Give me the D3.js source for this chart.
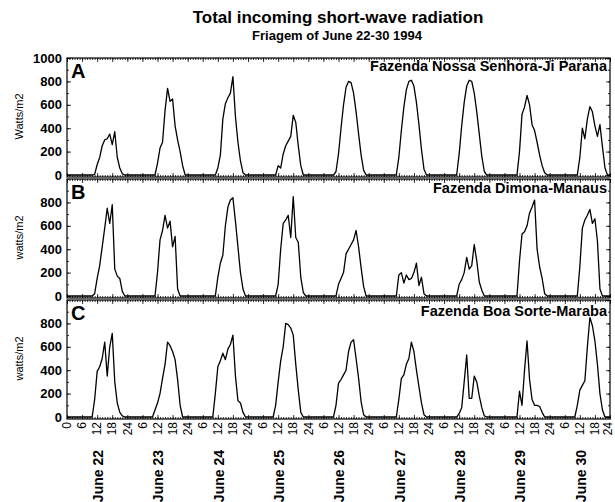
<!DOCTYPE html>
<html><head><meta charset="utf-8">
<script src="https://cdn.jsdelivr.net/npm/d3@7"></script>
<style>body{margin:0;background:#fff} text{font-family:"Liberation Sans",Arial,Helvetica,sans-serif}</style>
</head><body><svg id="c" width="615" height="502"></svg>
<script>
const title = "Total incoming short-wave radiation";
const subtitle = "Friagem of June 22-30 1994";
const days = ["June 22","June 23","June 24","June 25","June 26","June 27","June 28","June 29","June 30"];
const stations = ["Fazenda Nossa Senhora-Ji Parana","Fazenda Dimona-Manaus","Fazenda Boa Sorte-Maraba"];
const panelLetters = ["A","B","C"];
const yLabels = ["Watts/m2","watts/m2","watts/m2"];
const yTicksA = [0,200,400,600,800,1000];
const yTicksBC = [0,200,400,600,800];
const hourTicks = [0,6,12,18,24];

// hourly values (h0..h23) for each day, W/m2
const seriesA = [
 [0,0,0,0,0,0,0,0,0,0,0,5,90,150,250,300,310,350,260,370,150,60,10,0],
 [0,0,0,0,0,0,0,0,0,0,0,0,100,230,280,550,740,630,650,420,300,200,80,0],
 [0,0,0,0,0,0,0,0,0,0,0,0,60,170,480,610,660,700,840,500,280,120,20,0],
 [0,0,0,0,0,0,0,0,0,0,0,0,80,60,180,250,290,330,510,450,250,80,0,0],
 [0,0,0,0,0,0,0,0,0,0,0,30,180,400,600,750,800,790,700,540,350,170,40,0],
 [0,0,0,0,0,0,0,0,0,0,0,0,150,380,580,730,800,810,760,620,430,220,50,0],
 [0,0,0,0,0,0,0,0,0,0,0,0,180,420,620,760,810,800,700,540,350,160,30,0],
 [0,0,0,0,0,0,0,0,0,0,0,0,200,520,580,680,600,430,380,280,170,80,20,0],
 [0,0,0,0,0,0,0,0,0,0,0,0,150,400,310,480,585,540,420,330,430,240,60,0]
];
const seriesB = [
 [0,0,0,0,0,0,0,0,0,0,0,20,150,260,420,580,750,620,780,230,170,150,40,0],
 [0,0,0,0,0,0,0,0,0,0,0,0,200,480,560,690,580,640,420,510,60,0,0,0],
 [0,0,0,0,0,0,0,0,0,0,0,0,160,280,350,600,760,820,840,640,420,200,60,0],
 [0,0,0,0,0,0,0,0,0,0,0,0,100,400,620,650,690,500,850,500,460,160,30,0],
 [0,0,0,0,0,0,0,0,0,0,0,0,100,150,200,360,400,440,480,560,420,240,80,0],
 [0,0,0,0,0,0,0,0,0,0,0,0,180,200,110,180,140,150,200,280,90,160,20,0],
 [0,0,0,0,0,0,0,0,0,0,0,0,100,140,200,330,230,260,440,300,120,50,0,0],
 [0,0,0,0,0,0,0,0,0,0,0,0,300,530,550,600,710,760,820,400,250,150,20,0],
 [0,0,0,0,0,0,0,0,0,0,0,0,250,580,650,690,740,620,660,470,60,0,0,0]
];
const seriesC = [
 [0,0,0,0,0,0,0,0,0,0,0,150,390,430,500,640,350,600,715,300,120,40,10,0],
 [0,0,0,0,0,0,0,0,0,0,0,60,120,200,330,450,640,610,560,490,320,100,0,0],
 [0,0,0,0,0,0,0,0,0,0,0,200,430,480,545,490,580,620,700,350,140,120,40,0],
 [0,0,0,0,0,0,0,0,0,0,0,100,300,480,600,800,790,760,700,450,230,40,0,0],
 [0,0,0,0,0,0,0,0,0,0,0,100,290,320,360,400,560,640,660,500,330,130,20,0],
 [0,0,0,0,0,0,0,0,0,0,0,0,150,330,360,450,500,640,560,400,260,120,20,0],
 [0,0,0,0,0,0,0,0,0,0,0,0,30,80,300,530,160,160,350,300,180,80,10,0],
 [0,0,0,0,0,0,0,0,0,0,0,0,220,100,400,650,320,150,100,100,90,40,0,0],
 [0,0,0,0,0,0,0,0,0,0,0,100,230,270,310,600,850,780,650,450,200,60,0,0]
];

const svg = d3.select("#c");
const L = 67, R = 610;
const panels = [
  {top:58, bottom:177, data:seriesA, yt:yTicksA, nameY:13},
  {top:179, bottom:298, data:seriesB, yt:yTicksBC, nameY:14},
  {top:300, bottom:419, data:seriesC, yt:yTicksBC, nameY:16}
];
const nH = days.length*24;
const x = d3.scaleLinear().domain([0, nH]).range([L, R]);

svg.append("text").attr("x",338).attr("y",23).attr("text-anchor","middle")
  .attr("font-size",17).attr("font-weight","bold").text(title);
svg.append("text").attr("x",337).attr("y",40).attr("text-anchor","middle")
  .attr("font-size",13).attr("font-weight","bold").text(subtitle);

panels.forEach((p,i)=>{
  const y = d3.scaleLinear().domain([-17,1000]).range([p.bottom,p.top]);
  const g = svg.append("g");
  const flat = p.data.flat();
  flat.push(0);
  const hourMinor = d3.range(0,nH+1,1), hourMajor = d3.range(0,nH+1,6);
  const mk = (axis, tr) => { const a = g.append("g").attr("transform",tr).call(axis); a.select(".domain").remove(); a.selectAll("line").attr("stroke","#000").attr("stroke-width",0.8); return a; };
  mk(d3.axisBottom(x).tickValues(hourMinor).tickSize(-2).tickFormat(""), `translate(0,${p.bottom})`);
  mk(d3.axisBottom(x).tickValues(hourMajor).tickSize(-4).tickFormat(""), `translate(0,${p.bottom})`);
  mk(d3.axisTop(x).tickValues(hourMinor).tickSize(-2).tickFormat(""), `translate(0,${p.top})`);
  mk(d3.axisTop(x).tickValues(hourMajor).tickSize(-4).tickFormat(""), `translate(0,${p.top})`);
  mk(d3.axisLeft(y).tickValues(d3.range(0,1001,100)).tickSize(-2).tickFormat(""), `translate(${L},0)`);
  const ya = mk(d3.axisLeft(y).tickValues(p.yt).tickSize(-4).tickPadding(5).tickFormat(d3.format("d")), `translate(${L},0)`);
  ya.selectAll("text").attr("font-size",13).attr("font-weight","bold").attr("fill","#000")
    .style("font-family",'"Liberation Sans",Arial,sans-serif');
  mk(d3.axisRight(y).tickValues(d3.range(0,1001,100)).tickSize(-2).tickFormat(""), `translate(${R},0)`);
  mk(d3.axisRight(y).tickValues(d3.range(0,1001,200)).tickSize(-4).tickFormat(""), `translate(${R},0)`);

  g.append("rect").attr("x",L).attr("y",p.top).attr("width",R-L).attr("height",p.bottom-p.top)
    .attr("fill","none").attr("stroke","#000").attr("stroke-width",1.2);

  g.append("path").datum(flat)
    .attr("d", d3.line().x((d,j)=>x(j)).y(d=>y(d)))
    .attr("fill","none").attr("stroke","#000").attr("stroke-width",1.3).attr("stroke-linejoin","round");

  g.append("text").attr("x",L+4).attr("y",p.top+20).attr("font-size",20).attr("font-weight","bold").text(panelLetters[i]);
  g.append("text").attr("x",R-3).attr("y",p.top+p.nameY).attr("text-anchor","end")
    .attr("font-size",14.5).attr("font-weight","bold").text(stations[i]);
  const cy = y(500);
  g.append("text").attr("transform",`translate(23,${cy}) rotate(-90)`).attr("text-anchor","middle")
    .attr("font-size",11).text(yLabels[i]);
});

// x tick labels under bottom panel
const bottom = panels[2].bottom;
const labelHours = d3.range(0,nH+1,6);
svg.append("g").selectAll("text").data(labelHours).join("text")
  .attr("transform", h=>`translate(${Math.min(x(h), 608)},${bottom+3}) rotate(-90)`)
  .attr("text-anchor","end").attr("dy","0.35em").attr("font-size",12)
  .text(h=> h===0 ? "0" : (h%24===0 ? "24" : String(h%24)));
svg.append("g").selectAll("text").data(days).join("text")
  .attr("transform",(d,i)=>`translate(${x(i*24+12)+1},450) rotate(-90)`)
  .attr("text-anchor","end").attr("dy","0.35em").attr("font-size",14).attr("font-weight","bold")
  .text(d=>d);
</script></body></html>
